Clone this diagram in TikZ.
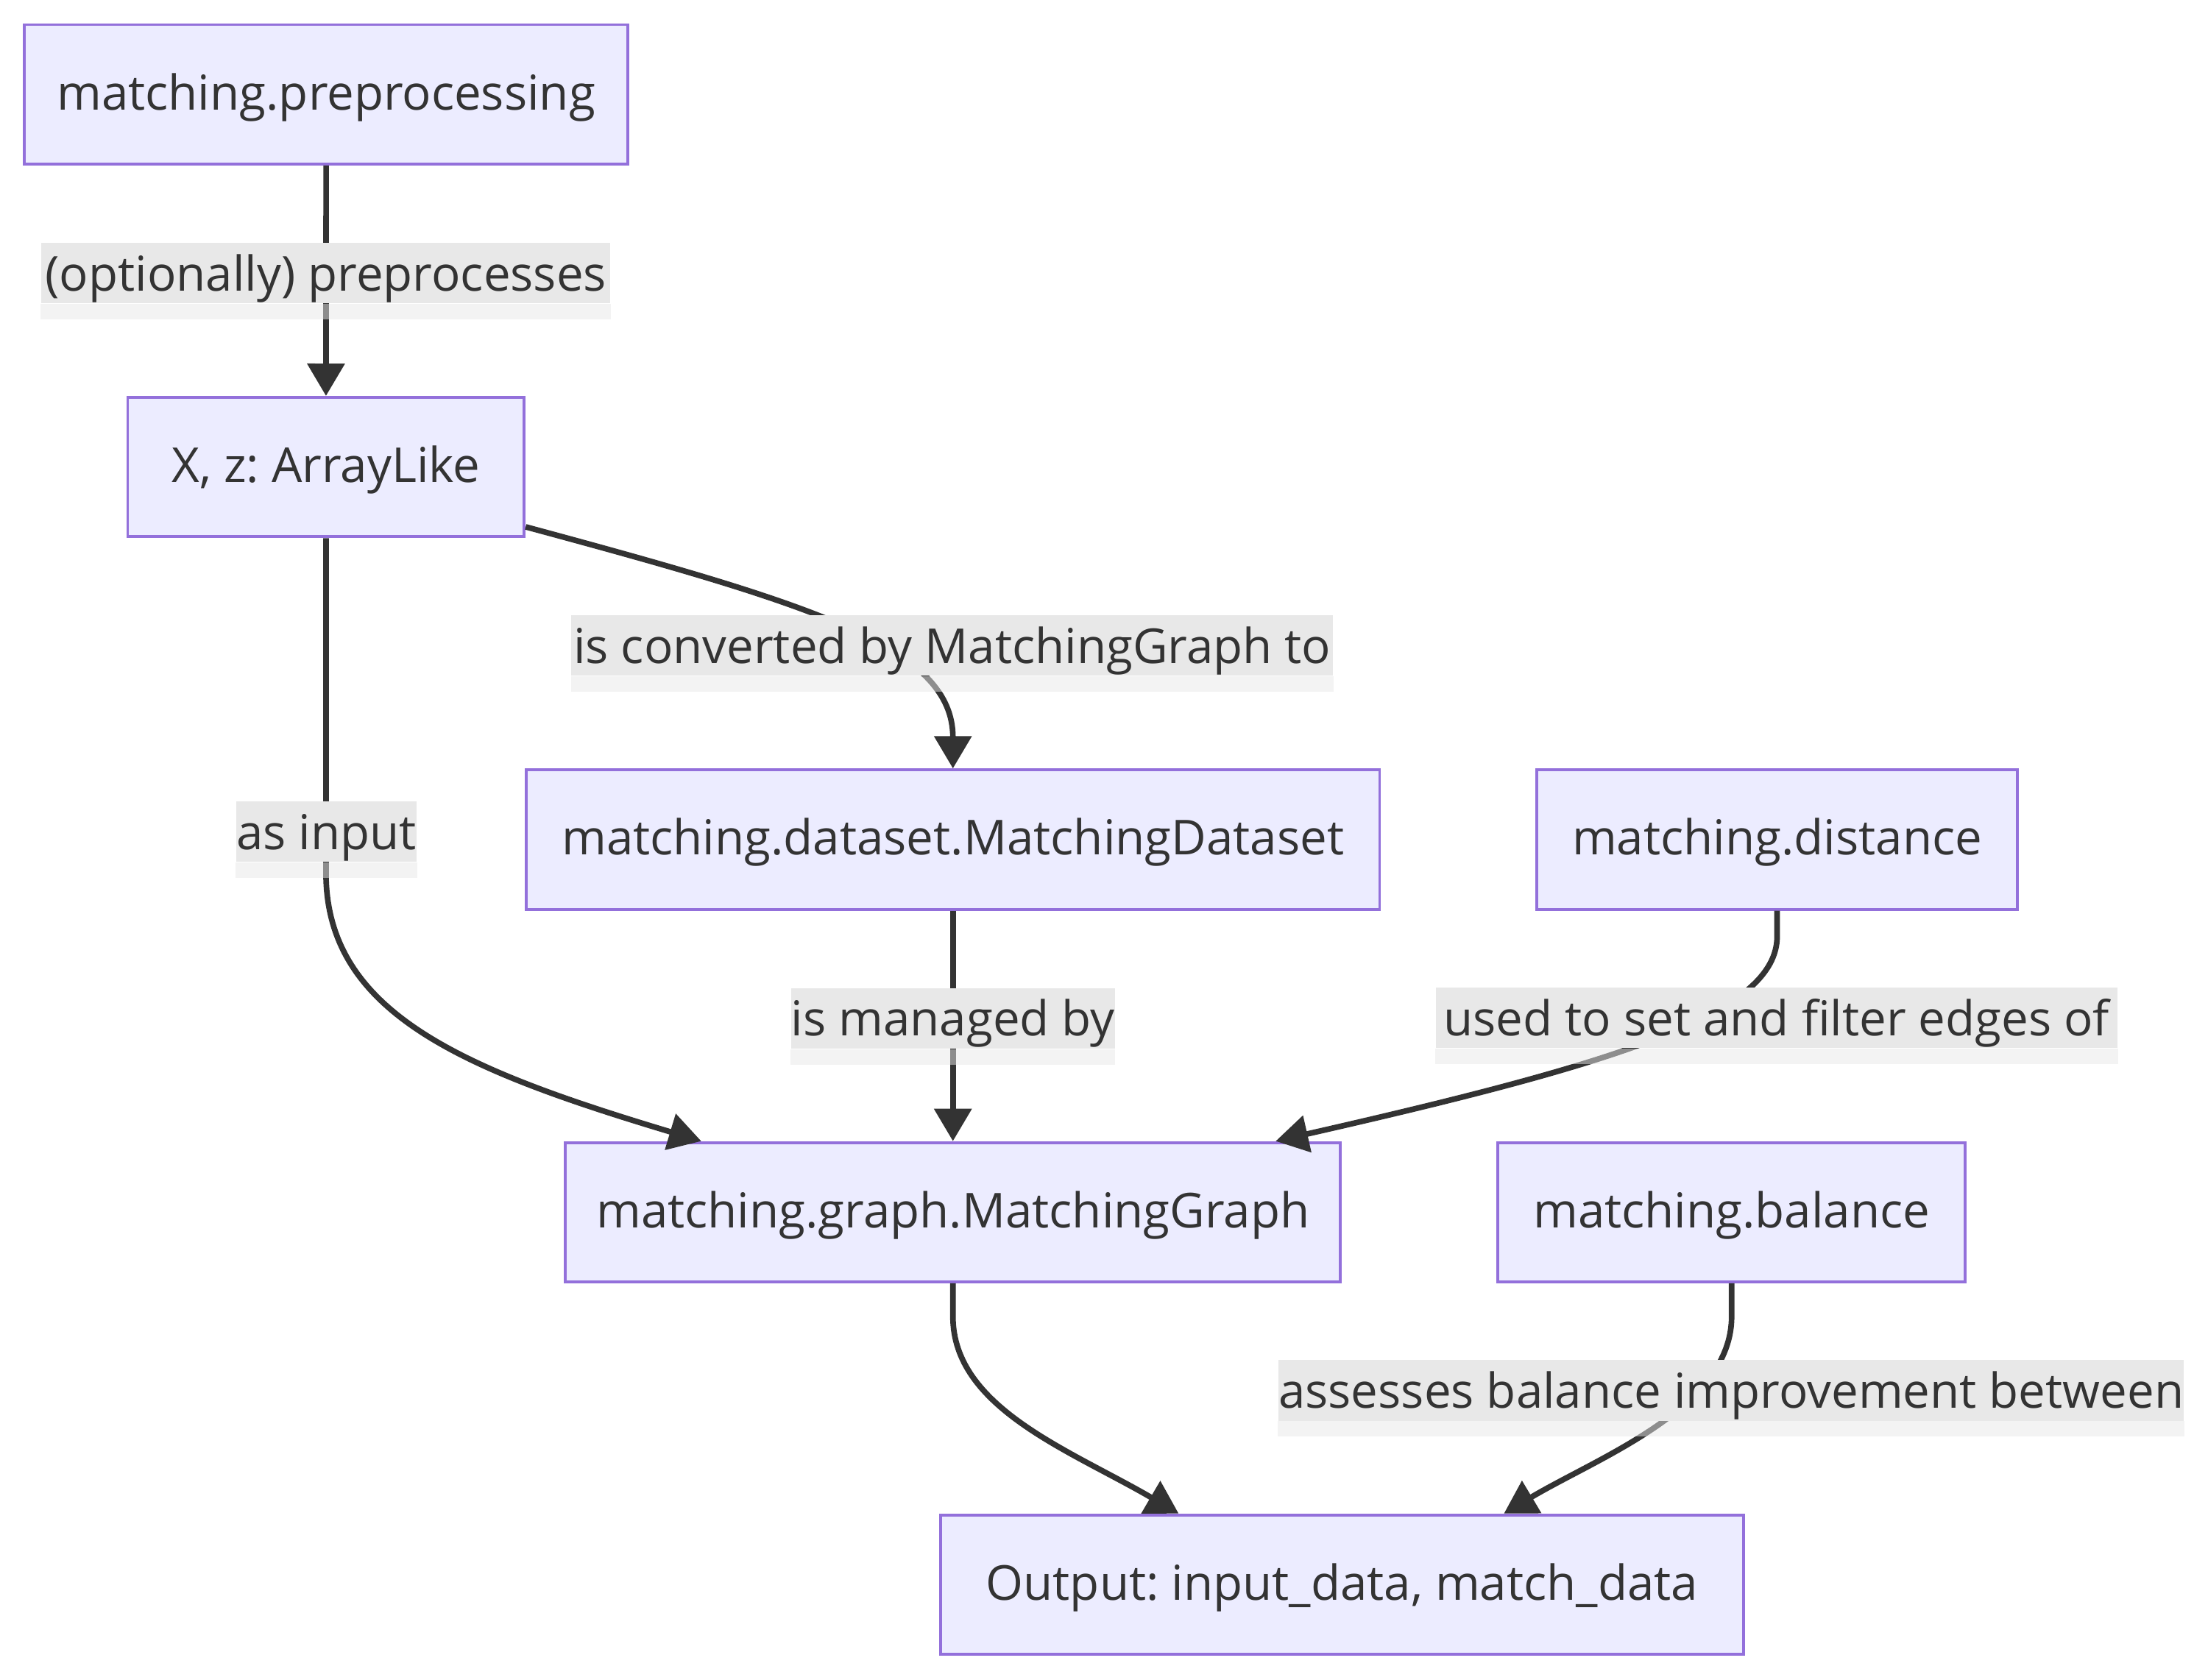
\documentclass[tikz,border=0pt]{standalone}
\usepackage{fontspec}
\setmainfont{Open Sans}
\usetikzlibrary{arrows.meta}
\definecolor{nodefill}{HTML}{ECECFF}
\definecolor{nodeline}{HTML}{9370DB}
\definecolor{edgecol}{HTML}{333333}
\definecolor{lblbg}{HTML}{E8E8E8}
\newcommand{\dfont}{\fontsize{17.1pt}{20pt}\selectfont\frenchspacing}
\tikzset{
  box/.style={draw=nodeline, fill=nodefill, line width=1pt, text=edgecol,
    font=\dfont, inner sep=0pt, minimum height=49.5pt,
    text height=15pt, text depth=4pt},
  lbl/.style={fill=lblbg, inner sep=0pt, text=edgecol, font=\dfont,
    text height=17.1pt, text depth=4.4pt},
  stripe/.style={fill=lblbg, fill opacity=0.5},
  edge/.style={draw=edgecol, line width=2pt,
    -{Triangle[length=11.5pt,width=13pt]}}
}
\begin{document}
\begin{tikzpicture}[x=0.5pt,y=-0.5pt]
\useasboundingbox (0,0) rectangle (1568,1193);
% nodes
\node[box, minimum width=214.3pt] (pre) at (231.6,67) {matching.preprocessing};
\node[box, minimum width=140.8pt] (X) at (231.5,331.7) {X, z: ArrayLike};
\node[box, minimum width=303pt] (ds) at (676.7,596.3) {matching.dataset.MatchingDataset};
\node[box, minimum width=170.6pt] (dist) at (1262,596.3) {matching.distance};
\node[box, minimum width=275.2pt] (graph) at (676.7,861) {matching.graph.MatchingGraph};
\node[box, minimum width=166pt] (bal) at (1229.7,861) {matching.balance};
\node[box, minimum width=285pt] (out) at (953,1125.5) {Output: input\_data, match\_data};
% edges
\draw[edge] (pre.south) -- (X.north);
\draw[edge] ([yshift=4pt]X.south east) .. controls (580,430) and (676.7,460) .. (ds.north);
\draw[edge] (X.south) -- (231.5,620) .. controls (231.5,720) and (330,760) .. ([xshift=48.75pt]graph.north west);
\draw[edge] (ds.south) -- (graph.north);
\draw[edge] (dist.south) -- (1262,665) .. controls (1262,720) and (1150,755) .. ([xshift=-23.5pt]graph.north east);
\draw[edge] (graph.south) -- (676.7,935) .. controls (676.7,1000) and (760,1030) .. ([xshift=85pt]out.north west);
\draw[edge] (bal.south) -- (1229.7,935) .. controls (1229.7,1000) and (1135,1035) .. ([xshift=200.5pt]out.north west);
% labels
\node[lbl, minimum width=202pt] (l1) at (231.4,194) {(optionally) preprocesses};
\fill[stripe] (l1.south west) rectangle ([yshift=-5.5pt]l1.south east);
\node[lbl, minimum width=270.4pt] (l2) at (676.2,458.4) {is converted by MatchingGraph to};
\fill[stripe] (l2.south west) rectangle ([yshift=-5.5pt]l2.south east);
\node[lbl, minimum width=64pt] (l3) at (231.9,590.5) {as input};
\fill[stripe] (l3.south west) rectangle ([yshift=-5.5pt]l3.south east);
\node[lbl, minimum width=114pt] (l4) at (676.7,723.2) {is managed by};
\fill[stripe] (l4.south west) rectangle ([yshift=-5.5pt]l4.south east);
\node[lbl, minimum width=242pt] (l5) at (1261.6,723) {used to set and filter edges of};
\fill[stripe] (l5.south west) rectangle ([yshift=-5.5pt]l5.south east);
\node[lbl, minimum width=320pt] (l6) at (1229.4,987.5) {assesses balance improvement between};
\fill[stripe] (l6.south west) rectangle ([yshift=-5.5pt]l6.south east);
\end{tikzpicture}
\end{document}
